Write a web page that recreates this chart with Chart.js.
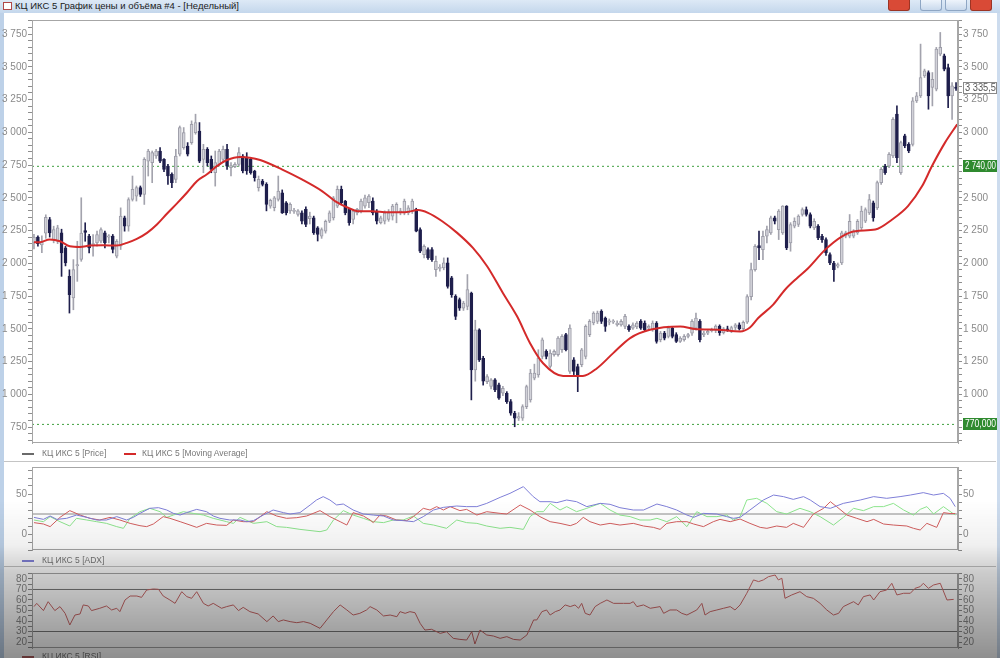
<!DOCTYPE html>
<html lang="ru">
<head>
<meta charset="utf-8">
<title>КЦ ИКС 5</title>
<script src="https://cdn.jsdelivr.net/npm/chart.js@4.4.1/dist/chart.umd.min.js"></script>
<style>
  html, body { margin: 0; padding: 0; }
  body { width: 1000px; height: 658px; position: relative; overflow: hidden; background: #fff;
         font-family: "Liberation Sans", Arial, sans-serif; }
  #titlebar { position: absolute; left: 0; top: 0; width: 1000px; height: 13px; z-index: 4;
              background: linear-gradient(#dde9f6, #c4d7ec); }
  #titlebar .ico { position: absolute; left: 3px; top: 2px; width: 9px; height: 8px; background: #fff;
                   border: 1px solid #b04848; box-sizing: border-box; }
  #titlebar .txt { position: absolute; left: 15px; top: 0; font-size: 9.5px; line-height: 12px; color: #202020; }
  .btn { position: absolute; top: 0; height: 11px; width: 22px; box-sizing: border-box;
         border: 1px solid #8ea6c4; border-top: none; border-radius: 0 0 3px 3px;
         background: linear-gradient(#eef4fb, #c9d9ec); }
  .btn.red { background: #d94a36; border-color: #9c3424; }
  .edgeL { position: absolute; left: 0; top: 13px; width: 4px; height: 645px; background: #bdd1e8; }
  .edgeR { position: absolute; right: 0; top: 13px; width: 3px; height: 645px; background: #cddcee; z-index: 3; }
  canvas { position: absolute; left: 0; }
  .legend { position: absolute; left: 0; width: 600px; height: 11px; font-size: 8.5px; color: #777;
            white-space: nowrap; line-height: 11px; z-index: 2; }
  .legend span { position: absolute; top: 0; }
  .legend i { position: absolute; top: 5px; height: 2px; width: 12px; }
  .sep { position: absolute; left: 4px; width: 992px; height: 1px; background: #c4c4c4; }
  #shade { position: absolute; left: 0; top: 500px; width: 1000px; height: 158px; pointer-events: none; z-index: 5;
           background: linear-gradient(to bottom, rgba(0,0,0,0) 0px, rgba(0,0,0,0.06) 45px,
                       rgba(0,0,0,0.2) 72px, rgba(0,0,0,0.44) 158px); }
</style>
</head>
<body>
<div id="titlebar">
  <div class="ico"></div>
  <div class="txt">КЦ ИКС 5 График цены и объёма #4 - [Недельный]</div>
  <div class="btn red" style="left:888px;"></div>
  <div class="btn" style="left:920px;"></div>
  <div class="btn" style="left:945px;"></div>
  <div class="btn red" style="left:970px;"></div>
</div>
<div class="edgeL"></div>
<div class="edgeR"></div>

<canvas id="priceChart" width="1000" height="441" style="top:12px"></canvas>
<div class="legend" style="top:448px">
  <i style="left:22px;background:#6a6a6a"></i><span style="left:42px">КЦ ИКС 5 [Price]</span>
  <i style="left:124px;background:#d42a2a"></i><span style="left:142px">КЦ ИКС 5 [Moving Average]</span>
</div>
<div class="sep" style="top:461px"></div>

<canvas id="adxChart" width="1000" height="99" style="top:459px"></canvas>
<div class="legend" style="top:555px">
  <i style="left:22px;background:#8282d8"></i><span style="left:42px">КЦ ИКС 5 [ADX]</span>
</div>
<div class="sep" style="top:566px"></div>

<canvas id="rsiChart" width="1000" height="93" style="top:565px"></canvas>
<div class="legend" style="top:651px">
  <i style="left:22px;background:#b06060"></i><span style="left:42px">КЦ ИКС 5 [RSI]</span>
</div>
<div id="shade"></div>

<script>
// --- недельные свечи (читаются с картинки) ---
const opens = [2160,2200,2140,2230,2334,2181,2168,2232,2117,1900,1735,1980,2030,2250,2207,2140,2156,2168,2232,2200,
  2207,2054,2130,2347,2283,2487,2513,2577,2525,2780,2768,2819,2857,2793,2742,2679,2640,2832,2883,2895,
  2921,2997,3010,2793,2870,2793,2691,2755,2793,2870,2730,2737,2755,2819,2806,2793,2704,2577,2628,2602,
  2436,2424,2487,2538,2462,2400,2395,2373,2385,2411,2340,2347,2270,2207,2245,2321,2347,2436,2564,2475,
  2411,2334,2385,2398,2436,2462,2475,2398,2309,2321,2334,2360,2385,2390,2385,2385,2398,2411,2258,2066,
  2105,2105,1952,1960,1965,2003,1888,1748,1722,1658,1671,1773,1186,1492,1275,1097,1059,1110,1072,1008,
  1008,944,855,817,817,906,957,1123,1148,1289,1327,1212,1302,1302,1340,1455,1174,1263,1212,1225,
  1289,1455,1544,1557,1633,1582,1550,1550,1530,1530,1518,1518,1505,1514,1557,1544,1505,1493,1544,1416,
  1467,1442,1505,1455,1403,1416,1442,1467,1505,1557,1455,1467,1486,1490,1520,1470,1500,1480,1510,1530,
  1500,1550,1745,1952,2135,2104,2206,2232,2347,2257,2232,2436,2155,2283,2296,2372,2410,2372,2270,2283,
  2206,2181,2066,2002,1977,2002,2206,2206,2206,2232,2270,2321,2385,2462,2423,2615,2742,2742,2819,3138,
  2691,2972,2908,2908,3240,3278,3431,3456,3342,3329,3597,3584,3494,3278,3345];
const highs = [2220,2210,2210,2370,2350,2283,2290,2260,2130,1950,2028,2168,2500,2309,2220,2219,2245,2270,2245,2219,
  2220,2181,2423,2360,2500,2666,2590,2590,2806,2870,2857,2870,2883,2800,2755,2690,2870,3048,3036,2921,
  3087,3138,3074,2908,2883,2819,2857,2870,2895,2908,2768,2768,2883,2830,2844,2806,2710,2666,2640,2615,
  2490,2510,2666,2560,2470,2462,2420,2410,2400,2430,2390,2360,2280,2270,2330,2400,2510,2590,2589,2480,
  2420,2410,2420,2490,2520,2525,2500,2410,2360,2400,2410,2450,2462,2420,2490,2440,2490,2420,2270,2140,
  2117,2120,2054,1990,2041,2041,1900,1760,1735,1710,1914,1780,1565,1500,1290,1150,1120,1120,1085,1060,
  1020,960,870,860,920,1070,1190,1230,1340,1430,1340,1340,1340,1440,1455,1465,1530,1280,1230,1350,
  1530,1570,1630,1635,1645,1590,1575,1570,1560,1570,1610,1530,1545,1555,1570,1560,1530,1560,1555,1480,
  1480,1520,1515,1470,1440,1455,1465,1570,1620,1570,1480,1490,1505,1530,1530,1510,1520,1520,1540,1545,
  1560,1760,2002,2143,2245,2245,2283,2360,2360,2410,2440,2440,2310,2347,2370,2423,2430,2385,2340,2296,
  2220,2194,2079,2015,2002,2245,2245,2372,2257,2334,2436,2423,2525,2475,2628,2730,2755,2844,3112,3201,
  2933,2985,2921,3265,3304,3673,3482,3469,3456,3648,3762,3597,3520,3380,3380];
const lows = [2110,2130,2080,2190,2200,2156,2150,1900,1980,1620,1645,1862,2015,2168,2079,2054,2130,2156,2117,2156,
  2079,2041,2105,2245,2245,2475,2475,2510,2449,2666,2615,2800,2768,2700,2602,2577,2615,2819,2870,2819,
  2908,2985,2768,2691,2742,2691,2589,2742,2768,2717,2666,2730,2742,2690,2679,2680,2627,2551,2590,2400,
  2420,2400,2475,2380,2370,2380,2380,2360,2300,2280,2300,2220,2170,2190,2230,2310,2330,2424,2450,2370,
  2290,2300,2370,2385,2420,2424,2370,2300,2300,2300,2320,2330,2309,2370,2370,2370,2380,2240,2080,2040,
  2030,2015,1900,1940,1950,1810,1740,1570,1640,1640,1645,957,1100,1250,1070,1080,1040,1020,960,990,
  930,840,752,800,800,890,940,1110,1130,1270,1270,1200,1290,1290,1320,1330,1160,1150,1020,1210,
  1270,1440,1530,1540,1540,1480,1530,1540,1520,1520,1500,1480,1495,1500,1495,1480,1495,1480,1390,1400,
  1415,1430,1430,1395,1395,1405,1430,1450,1490,1400,1440,1455,1475,1470,1450,1460,1480,1470,1490,1490,
  1490,1540,1720,1940,2028,2028,2155,2220,2300,2181,2220,2104,2092,2270,2280,2360,2360,2270,2257,2181,
  2160,2060,1990,1862,1965,1990,2194,2194,2194,2220,2257,2310,2372,2321,2410,2602,2679,2730,2806,2768,
  2679,2882,2844,2895,3227,3265,3418,3176,3201,3316,3584,3469,3188,3099,3320];
const closes = [2200,2150,2160,2350,2232,2258,2270,2079,2003,1760,1951,1990,2230,2235,2117,2150,2219,2258,2156,2210,
  2105,2168,2360,2283,2487,2564,2577,2525,2793,2857,2844,2857,2780,2717,2666,2615,2819,3036,2997,2832,
  3061,3074,2780,2870,2768,2717,2768,2857,2870,2742,2745,2755,2844,2704,2704,2691,2653,2640,2602,2449,
  2480,2500,2551,2385,2385,2450,2405,2400,2321,2296,2360,2232,2220,2258,2321,2385,2500,2564,2462,2385,
  2309,2398,2411,2475,2500,2513,2385,2321,2347,2385,2385,2436,2449,2400,2475,2424,2475,2245,2092,2130,
  2041,2028,2015,1970,2003,1824,1760,1595,1658,1697,1799,1186,1492,1263,1100,1135,1110,1033,970,1046,
  944,855,817,830,906,1059,1161,1161,1276,1416,1289,1314,1327,1429,1442,1340,1506,1174,1135,1340,
  1518,1557,1620,1620,1557,1518,1560,1560,1544,1557,1595,1493,1530,1544,1505,1493,1518,1544,1403,1467,
  1429,1505,1442,1403,1429,1442,1455,1557,1582,1416,1467,1480,1496,1520,1470,1500,1490,1510,1530,1500,
  1550,1745,1952,2130,2117,2206,2257,2347,2321,2398,2436,2117,2296,2321,2360,2410,2372,2283,2321,2194,
  2181,2079,2002,1952,1990,2232,2232,2321,2245,2321,2398,2410,2487,2347,2615,2717,2691,2831,3099,2806,
  2921,2895,2857,3240,3278,3418,3469,3278,3405,3635,3648,3482,3278,3354,3335.5];

// скользящая средняя: [номер свечи, значение]
const maPoints = [[0,2160],[1.5,2161],[4,2181],[6.6,2168],[9.1,2130],[11.7,2125],[14.2,2135],[17.5,2138],[21,2135],
  [23.6,2156],[26.1,2186],[28.7,2232],[31.2,2296],[33.8,2380],[36.3,2457],[38.8,2538],[41.4,2628],[43.9,2679],
  [46.4,2742],[49,2788],[52.3,2811],[54.8,2806],[57.4,2788],[62.9,2717],[68,2640],[73.1,2551],[76.4,2475],
  [79.7,2424],[82.2,2398],[85.8,2398],[89.8,2390],[94.2,2390],[97.5,2406],[100,2385],[103.6,2321],[107.4,2232],
  [111.4,2117],[115,1977],[119,1773],[122.6,1595],[125.9,1390],[129.2,1237],[134.3,1140],[139.3,1140],
  [142.9,1199],[147,1314],[151.3,1429],[156.3,1492],[164,1518],[167.8,1498],[173.6,1493],[179.2,1480],
  [181.7,1510],[183.8,1582],[187.6,1684],[190.6,1798],[193.7,1888],[196.4,1960],[200.8,2104],[205.1,2206],
  [208.4,2245],[213.5,2257],[217.8,2334],[221.8,2436],[225.4,2589],[227.9,2742],[231.2,2921],[234.3,3061]];

// ADX, +DI, -DI: [номер свечи, значение]
const adxPoints = [[0,20.8],[2.4,18.3],[4.1,22.5],[5.8,18.3],[8.3,19.6],[10.8,23.7],[13.4,20.8],[15.9,17.5],[18.4,17.5],
  [21,21.7],[23.5,17.5],[25.2,20.8],[26.9,25.8],[29.4,32.1],[31.6,32.9],[33.7,30],[35.4,25.8],[37.1,23.7],[38.7,26.7],
  [41.3,30.8],[43.8,27.9],[45.5,22.5],[47.2,19.6],[49.7,17.5],[52.3,17.5],[54,15.4],[55.7,16.7],[58.2,23.7],[60.7,30],
  [63.3,26.7],[65,25],[67.5,26.7],[70.1,36.3],[71.7,42.5],[73.4,46.7],[75.1,42.5],[76.8,36.3],[78.5,37.5],[81,30],
  [83.6,25],[86.1,23.7],[88.7,22.5],[91.2,17.5],[93.7,16.7],[96.3,15.4],[98.8,21.7],[101.4,30],[103.9,33.3],[107.3,35],
  [109.8,34.2],[112.4,34.2],[114.9,38.3],[118.3,45.8],[120.8,50.8],[124.2,59.2],[126.7,46.7],[128.4,40.4],[131,40.4],
  [132.7,39.2],[135.2,42.5],[137.7,40.4],[140.3,34.2],[143.7,38.3],[146.2,37.1],[148.7,32.9],[152.1,30],[154.7,30],
  [158.1,37.5],[160.6,34.2],[163.1,30],[165.7,23.7],[167.4,20.8],[169.9,25.8],[173.3,25],[175.8,21.7],[177.5,19.6],
  [179.2,20.8],[181.7,30],[185.1,42.5],[187.7,48.7],[190.2,46.7],[192.7,43.3],[195.3,46.7],[197,42.5],[199.5,34.2],
  [202.1,32.1],[205.4,38.3],[209.7,42.5],[213.1,46.7],[216.4,44.6],[219.8,46.7],[222.4,48.7],[225.7,51.7],[228.3,48.7],
  [230.8,50.8],[232.5,44.6],[233.8,34.2]];
const plusDiPoints = [[0,17.5],[2.4,15.4],[4.1,21.7],[6.6,15.4],[9.1,10],[10.8,19.6],[13.4,17.5],[15.9,15.4],[18.4,13.3],
  [21,9.2],[22.7,7.1],[24.4,19.6],[26.9,27.9],[29.4,32.1],[32,27.9],[33.7,20.8],[35.4,23.7],[37.9,27.9],[40.4,25.8],
  [43,23.7],[45.5,19.6],[48.9,15.4],[50.6,13.3],[52.3,20.8],[55.7,13.3],[59.1,15.4],[61.6,9.2],[64.1,8.3],[67.5,5.8],
  [72.6,2.9],[74.3,5],[76,17.5],[78.5,29.2],[81,23.7],[83.6,19.6],[86.1,15.4],[88.7,14.2],[91.2,17.5],[93.7,17.5],
  [96.3,22.5],[98.8,13.3],[101.4,11.2],[104.7,7.1],[107.3,17.5],[109.8,14.2],[112.4,13.3],[114.9,10],[118.3,7.1],
  [120.8,8.3],[124.2,5.8],[125.9,21.7],[127.6,27.9],[129.3,27.9],[131,38.3],[133.5,30],[135.2,34.2],[137.7,27.9],
  [140.3,32.1],[143.7,38.3],[146.2,30],[148.7,23.7],[151.3,21.7],[153.8,17.5],[156.4,17.5],[158.1,19.6],[160.6,15.4],
  [163.1,21.7],[165.7,9.2],[168.2,27.9],[170.8,21.7],[173.3,21.7],[175.8,23.7],[177.5,17.5],[179.2,21.7],[180.9,42.5],
  [183.4,44.6],[186,38.3],[188.5,27.9],[191,25],[194.4,32.1],[197,27.9],[199.5,21.7],[202.9,11.2],[205.4,20.8],
  [208,32.1],[210.5,29.2],[213.1,34.2],[215.6,34.2],[218.1,38.3],[220.7,30],[223.2,23.7],[224.9,30.8],[226.6,34.2],
  [228.3,25],[230.8,34.2],[233.4,25],[233.8,23.7]];
const minusDiPoints = [[0,14.2],[2.4,12.5],[4.1,9.2],[6.6,20.8],[9.1,29.2],[11.7,23.7],[14.2,19.6],[16.7,17.5],[19.3,20.8],
  [21.8,17.5],[24.4,13.3],[26.9,10.4],[28.6,9.2],[30.3,12.5],[32.8,21.7],[34.5,19.6],[37.1,15.4],[39.6,11.2],[41.3,8.3],
  [43.8,13.3],[46.4,11.2],[48.9,10.8],[50.6,17.5],[53.1,15.4],[55.7,15.4],[59.1,27.9],[61.6,22.5],[64.1,19.6],[66.7,20.4],
  [69.2,22.5],[72.6,29.2],[75.1,21.7],[77.7,15.4],[79.4,11.2],[81,26.7],[83.6,22.5],[85.3,17.5],[86.1,14.2],[87.8,23.7],
  [89.5,22.5],[92,17.5],[94.6,16.7],[96.3,21.7],[98.8,32.1],[100.5,30],[102.2,34.2],[103.9,30],[105.6,34.2],[108.1,29.2],
  [109.8,30.8],[112.4,23.7],[114.9,27.9],[118.3,25.8],[120,25],[123.4,36.3],[125.9,30],[128.4,21.7],[131,15.4],
  [133.5,13.3],[136.1,10.4],[137.7,13.3],[139.4,20.8],[141.1,15.4],[143.7,11.2],[146.2,13.3],[148.7,11.2],[152.1,13.3],
  [154.7,10],[157.2,8.3],[158.9,5.8],[160.6,13.3],[163.1,15.4],[165.7,15.4],[167.4,12.5],[169.9,9.2],[172.4,15.4],
  [174.1,18.3],[176.7,15.4],[179.2,18.7],[181.7,13.3],[184.3,8.3],[186,7.1],[188.5,10],[191,8.3],[192.7,13.3],[195.3,8.3],
  [197.8,25],[200.4,32.1],[202.1,40.4],[203.7,34.2],[206.3,23.7],[208.8,19.6],[211.4,15.4],[213.1,18.3],[215.6,12.5],
  [218.1,11.2],[221.5,10],[223.2,7.1],[224.9,5],[226.6,13.3],[229.1,8.3],[230.8,26.7],[232.5,25.6],[233.8,25.6]];

// RSI: [номер свечи, значение]
const rsiPoints = [[0,53.7],[0.7,56.8],[2.4,49.9],[3.6,58.4],[5.3,49.9],[6.6,53.7],[7.9,47.3],[9.1,36.2],[10.4,45.7],
  [11.7,46.7],[12.5,55.3],[13.8,54.3],[14.6,49.9],[16.7,52.1],[18.4,54.3],[19.7,50.5],[21,52.1],[21.8,48.9],[23.1,60],
  [24.4,63.8],[26.1,63.8],[27.3,62.5],[28.6,69.5],[30.3,70.5],[31.6,70.2],[32.8,63.8],[34.5,60],[35.8,56.8],[37.5,67.9],
  [38.8,63.2],[40,61.6],[41.3,67.9],[43,56.8],[44.2,54.3],[45.5,56.8],[47.6,52.1],[48.9,53.7],[50.6,55.3],[51.9,49.9],
  [53.1,53],[54.8,48.9],[56.9,46.7],[59.1,39.4],[60.7,44.8],[62,39.4],[63.3,41],[65,39.4],[66.7,38.4],[68.4,39.4],
  [70.1,37.8],[72.6,33],[74.3,41],[76,48.9],[77.7,55.3],[79.4,50.5],[81,45.7],[82.7,47.3],[84.4,50.5],[85.3,53.7],
  [87,50.5],[88.7,44.8],[90.4,45.7],[92.1,44.1],[92.9,48.9],[94.2,47.3],[95.4,48.9],[96.7,47.9],[98,37.8],[99.2,31.4],
  [100.9,32.1],[103.1,28.2],[104.7,29.8],[106.4,23.5],[108.1,22.5],[109.8,21.9],[111.1,29.8],[111.9,18.1],[113.2,31.4],
  [114.9,26.7],[116.6,25.7],[118.3,23.5],[120,25.1],[121.7,22.5],[123.4,21.9],[125.1,26.7],[126.8,41],[127.6,41],
  [128.9,48.9],[130.1,50.5],[131,45.7],[132.3,48.9],[133.5,50.5],[134.8,55.3],[136.1,53.7],[137.3,55.3],[138.2,52.1],
  [139,56.8],[139.9,47.3],[141.1,45.7],[142.4,53.7],[143.7,56.8],[145.4,60],[147.1,56.8],[149.6,56.8],[151.3,56.8],
  [152.1,58.4],[153,53.7],[154.7,55.3],[156.4,52.1],[158.9,53.7],[159.8,47.3],[161.4,50.5],[163.1,50.5],[164.4,47.3],
  [165.7,45.7],[168.2,50.5],[169.5,56.8],[170.3,45.7],[171.6,48.9],[173.3,50.5],[175,52.1],[176.7,53.7],[177.9,50.5],
  [179.2,55.3],[180.9,66.4],[182.6,79.1],[183.9,77.5],[185.1,79.1],[186.4,82.2],[188.1,83.8],[188.9,79.1],[189.8,80.7],
  [190.6,61.6],[192.3,64.8],[194.4,67.9],[196.1,63.2],[197.8,61.6],[199.5,56.8],[201.2,50.5],[202.9,45.7],[204.2,47.3],
  [205.4,53.7],[207.1,56.8],[208,58.4],[209.2,55.3],[210.5,63.2],[212.2,64.8],[213.1,60],[214.7,67.9],[216.4,69.5],
  [217.7,75.9],[219,64.8],[220.7,66.4],[222.4,66.4],[223.6,71.1],[224.9,72.7],[225.7,75.9],[227,71.1],[228.3,74.3],
  [230,75.9],[231.7,60],[233.4,60.6]];

// уровни и подписи осей
const levelValues = [2740, 770];
const levelTexts = ['2 740,00', '770,000'];
const lastPrice = 3335.5;
const lastPriceText = '3 335,5';
const priceLabels = [750, 1000, 1250, 1500, 1750, 2000, 2250, 2500, 2750, 3000, 3250, 3500, 3750];
const adxLabels = [0, 50];
const adxLevel = 25;
const rsiLabels = [20, 30, 40, 50, 60, 70, 80];
const rsiLevels = [70, 30];

const N = opens.length;
const idx = opens.map((_, i) => i);
const isUp = i => closes[i] >= opens[i];
const tickFont = { family: "'Liberation Sans', Arial, sans-serif", size: 10 };
const fmtPrice = v => v >= 1000 ? Math.floor(v / 1000) + ' ' + String(v % 1000).padStart(3, '0') : String(v);
const pts = arr => arr.map(([x, y]) => ({ x, y }));
const hline = v => [{ x: -0.5, y: v }, { x: N - 0.5, y: v }];

// --- оси ---
const stepTicks = (from, to, step) => {
    const out = [];
    for (let v = from; v <= to + 1e-9; v += step) out.push({ value: v });
    return out;
};

const makeAxis = (position, min, max, ticks, labels, width, fmt) => ({
    position, min, max,
    afterBuildTicks: (s) => { s.ticks = ticks; },
    afterFit: (s) => { s.width = width; },
    grid: { drawOnChartArea: false, drawTicks: true, tickLength: 4, tickColor: '#8e8e8e' },
    border: { display: true, color: '#a6a6a6' },
    ticks: {
        autoSkip: false, padding: 1, color: '#8a8a8a', font: tickFont,
        callback: (v) => labels.includes(v) ? fmt(v) : ''
    }
});

const xAxis = { type: 'linear', min: -0.5, max: N - 0.5, offset: false, display: false };

// рамка вокруг области графика
const framePlugin = {
    id: 'frame',
    afterDatasetsDraw(chart) {
        const { ctx, chartArea: a } = chart;
        ctx.save();
        ctx.strokeStyle = '#a6a6a6';
        ctx.lineWidth = 1;
        ctx.strokeRect(Math.round(a.left) + 0.5, Math.round(a.top) + 0.5,
                       Math.round(a.right - a.left) - 1, Math.round(a.bottom - a.top) - 1);
        ctx.restore();
    }
};

// ярлыки уровней справа
const tagPlugin = {
    id: 'tags',
    afterDraw(chart) {
        const { ctx } = chart;
        const y = chart.scales.y;
        const drawTag = (value, text, bg, fg, border) => {
            const py = Math.round(y.getPixelForValue(value));
            ctx.save();
            ctx.fillStyle = bg;
            ctx.fillRect(963, py - 6, 34, 12);
            if (border) {
                ctx.strokeStyle = border;
                ctx.strokeRect(963.5, py - 5.5, 33, 11);
            }
            ctx.fillStyle = fg;
            ctx.font = "10px 'Liberation Sans', Arial, sans-serif";
            ctx.textBaseline = 'middle';
            ctx.fillText(text, 965, py + 0.5, 31);
            ctx.restore();
        };
        drawTag(lastPrice, lastPriceText, '#ffffff', '#555555', '#8a8a8a');
        levelValues.forEach((v, k) => drawTag(v, levelTexts[k], '#2f8a2f', '#ffffff', null));
    }
};

const baseOptions = (padTop, padBottom, yLeft, yRight) => ({
    responsive: false,
    animation: false,
    devicePixelRatio: 1,
    events: [],
    layout: { padding: { top: padTop, bottom: padBottom, left: 0, right: 0 } },
    plugins: { legend: { display: false }, tooltip: { enabled: false } },
    scales: { x: xAxis, y: yLeft, y2: yRight }
});

// --- цена ---
const pMin = 628, pMax = 3857;
const pTicks = stepTicks(650, 3850, 50);
new Chart(document.getElementById('priceChart'), {
    type: 'bar',
    data: {
        datasets: [
            ...levelValues.map(v => ({
                type: 'line', data: hline(v), borderColor: '#3f9f3f', borderWidth: 1,
                borderDash: [2, 3], pointRadius: 0, order: 6
            })),
            {
                data: idx.map(i => ({ x: i, y: [lows[i], highs[i]] })),
                backgroundColor: (c) => isUp(c.dataIndex) ? '#a3a3ad' : '#1f1f4c',
                barThickness: 1, grouped: false, order: 4
            },
            {
                data: idx.map(i => ({ x: i, y: [opens[i], closes[i]] })),
                backgroundColor: (c) => isUp(c.dataIndex) ? '#d2d2d9' : '#1f1f4c',
                borderColor: (c) => isUp(c.dataIndex) ? '#9d9da8' : '#1f1f4c',
                borderWidth: 1, borderSkipped: false, barThickness: 3, minBarLength: 1,
                grouped: false, order: 3
            },
            {
                type: 'line', data: pts(maPoints), borderColor: '#d42a2a', borderWidth: 2,
                pointRadius: 0, cubicInterpolationMode: 'monotone', order: 1
            }
        ]
    },
    options: baseOptions(8, 10,
        makeAxis('left', pMin, pMax, pTicks, priceLabels, 32, fmtPrice),
        makeAxis('right', pMin, pMax, pTicks, priceLabels, 42, fmtPrice)),
    plugins: [framePlugin, tagPlugin]
});

// --- ADX ---
const aTicks = stepTicks(-20, 80, 10);
new Chart(document.getElementById('adxChart'), {
    type: 'line',
    data: {
        datasets: [
            { data: hline(adxLevel), borderColor: '#8a8a8a', borderWidth: 1, pointRadius: 0, order: 5 },
            { data: pts(plusDiPoints), borderColor: '#8ee68e', borderWidth: 1, pointRadius: 0, order: 3 },
            { data: pts(minusDiPoints), borderColor: '#d45f5f', borderWidth: 1, pointRadius: 0, order: 2 },
            { data: pts(adxPoints), borderColor: '#7f7fd8', borderWidth: 1, pointRadius: 0, order: 1 }
        ]
    },
    options: baseOptions(8, 8,
        makeAxis('left', -20, 83.75, aTicks, adxLabels, 32, String),
        makeAxis('right', -20, 83.75, aTicks, adxLabels, 42, String)),
    plugins: [framePlugin]
});

// --- RSI ---
const rTicks = stepTicks(15, 85, 5);
new Chart(document.getElementById('rsiChart'), {
    type: 'line',
    data: {
        datasets: [
            ...rsiLevels.map(v => ({ data: hline(v), borderColor: '#7a7a7a', borderWidth: 1, pointRadius: 0, order: 5 })),
            { data: pts(rsiPoints), borderColor: '#cc6868', borderWidth: 1, pointRadius: 0, order: 1 }
        ]
    },
    options: baseOptions(8, 10,
        makeAxis('left', 14.3, 85.7, rTicks, rsiLabels, 32, String),
        makeAxis('right', 14.3, 85.7, rTicks, rsiLabels, 42, String)),
    plugins: [framePlugin]
});
</script>
</body>
</html>
